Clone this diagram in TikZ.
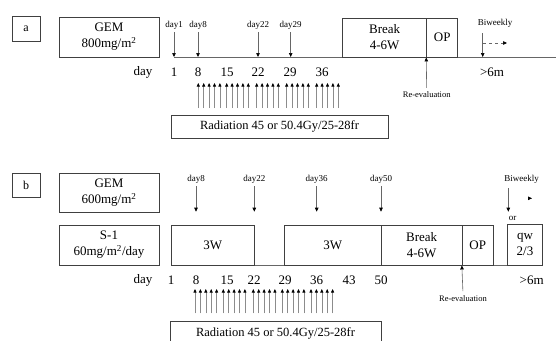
\documentclass[tikz,border=0pt]{standalone}
\usepackage{fontspec}
\setmainfont{Liberation Serif}
\usetikzlibrary{arrows.meta, positioning}
\tikzset{
	box/.style={draw=black!75, line width=0.9pt, inner sep=0pt, align=center, font=\fontsize{13}{16}\selectfont},
	lbl/.style={font=\fontsize{13}{16}\selectfont, inner sep=1pt},
	small/.style={font=\fontsize{9}{10}\selectfont, inner sep=1pt},
	tiny/.style={font=\fontsize{8.5}{10}\selectfont, inner sep=1pt},
	tline/.style={draw=black!60, line width=0.9pt},
	darr/.style={draw=black!60, line width=0.6pt, -{Triangle[length=4pt, width=3.5pt, color=black]}},
	radarr/.style={draw=black!45, line width=0.6pt, -{Triangle[length=3.5pt, width=3pt, color=black]}}
}

\begin{document}
\begin{tikzpicture}[x=1pt, y=-1pt]
			\clip (0,0) rectangle (556,340);
			\fill[white] (0,0) rectangle (556,340);
			
			% --- Panel a ---
			\node[box, minimum width=28, minimum height=25, font=\fontsize{12}{14}\selectfont] (aLbl) at (26,28.5) {a};
			\node[box, minimum width=100, minimum height=40] (gemA) at (109,37) {GEM\\800mg/m\textsuperscript{2}};
			\coordinate (tlA) at (0,57);
			\draw[tline] (174,57) -- (556,57);
			\node[box, minimum width=84, minimum height=39] (breakA) at (384.7,37.5) {Break\\4-6W};
			\node[box, minimum width=31, minimum height=39] (opA) at (442.2,37.5) {OP};
			
			% Doses
			\node[small] (d1A) at (174,25) {day1};
			\node[small] (d8A) at (198,25) {day8};
			\node[small] (d22A) at (258,25) {day22};
			\node[small] (d29A) at (290.7,25) {day29};
			\foreach \d in {d1A, d8A, d22A, d29A}
				\draw[darr, shorten <=2pt] (\d.south) -- (\d.south |- tlA);
			
			% Day row
			\node[lbl] (dayA) at (143,72) {day};
			\foreach \x/\t in {174/1, 198/8, 227/15, 258/22, 290/29, 322/36}
				\node[lbl] at (\x,72) {\t};
			
			% Radiation
			\foreach \s in {198.3, 226.7, 256.7, 286.7, 316.7}
				\foreach \k in {0,...,4}
					\draw[radarr] (\s+5.4*\k,108) -- (\s+5.4*\k,83);
			\node[box, minimum width=217, minimum height=23, font=\fontsize{12.5}{15}\selectfont] (radA) at (279.5,126.5) {Radiation 45 or 50.4Gy/25-28fr};
			
			% Re-evaluation and follow-up
			\node[tiny] (reA) at (426.7,95) {Re-evaluation};
			\draw[darr, shorten <=3pt] (reA.north) -- (opA.south west);
			\node[small] (biA) at (495,23) {Biweekly};
			\coordinate (biTopA) at (482.7,33);
			\draw[darr] (biTopA) -- (biTopA |- tlA);
			\coordinate (dashA) at (483,43);
			\coordinate (dashEndA) at (507,43);
			\draw[darr, dashed] (dashA) -- (dashEndA);
			\node[lbl] (mA) at (492,72) {>6m};
			
			% --- Panel b ---
			\node[box, minimum width=28, minimum height=24, font=\fontsize{12}{14}\selectfont] (bLbl) at (26,185) {b};
			\node[box, minimum width=100, minimum height=39.7] (gemB) at (109,192.8) {GEM\\600mg/m\textsuperscript{2}};
			\node[box, minimum width=100, minimum height=40] (s1B) at (109,245) {S-1\\60mg/m\textsuperscript{2}/day};
			\coordinate (tlB) at (0,265);
			\draw[tline] (171,265) -- (543,265);
			\node[box, minimum width=83.3, minimum height=40] (w3aB) at (212.7,245) {3W};
			\node[box, minimum width=96.7, minimum height=40] (w3bB) at (332.7,245) {3W};
			\node[box, minimum width=81.3, minimum height=40] (breakB) at (421.7,245) {Break\\4-6W};
			\node[box, minimum width=31, minimum height=40] (opB) at (477.8,245) {OP};
			\node[box, minimum width=35.4, minimum height=40.7] (qwB) at (525,244.7) {qw\\2/3};
			
			% Doses
			\node[small] (d8B) at (196,179) {day8};
			\node[small] (d22B) at (254.3,179) {day22};
			\node[small] (d36B) at (316.7,179) {day36};
			\node[small] (d50B) at (381,179) {day50};
			\coordinate (doseB) at (0,211.7);
			\foreach \d in {d8B, d22B, d36B, d50B}
				\draw[darr, shorten <=2pt] (\d.south) -- (\d.south |- doseB);
			
			% Day row
			\node[lbl] (dayB) at (143,280) {day};
			\foreach \x/\t in {171/1, 196/8, 227/15, 254/22, 285/29, 316.7/36, 349/43, 381/50}
				\node[lbl] at (\x,280) {\t};
			
			% Radiation
			\foreach \s in {195, 223.3, 253.3, 282.3, 311}
				\foreach \k in {0,...,4}
					\draw[radarr] (\s+5.4*\k,313.3) -- (\s+5.4*\k,289);
			\node[box, minimum width=211, minimum height=23, font=\fontsize{12.5}{15}\selectfont] (radB) at (275.5,333.2) {Radiation 45 or 50.4Gy/25-28fr};
			
			% Re-evaluation and follow-up
			\node[tiny] (reB) at (463,298.3) {Re-evaluation};
			\draw[darr, shorten <=3pt] (reB.north) -- (opB.south west);
			\node[small] (biB) at (521.7,179) {Biweekly};
			\coordinate (biTopB) at (508.3,188);
			\draw[darr] (biTopB) -- (biTopB |- doseB);
			\node[small] (orB) at (512.7,218.3) {or};
			\coordinate (tipB) at (529.5,198.3);
			\coordinate (tipEndB) at (532,198.3);
			\draw[darr] (tipB) -- (tipEndB);
			\node[lbl] (mB) at (531.7,280) {>6m};
		\end{tikzpicture}
\end{document}
